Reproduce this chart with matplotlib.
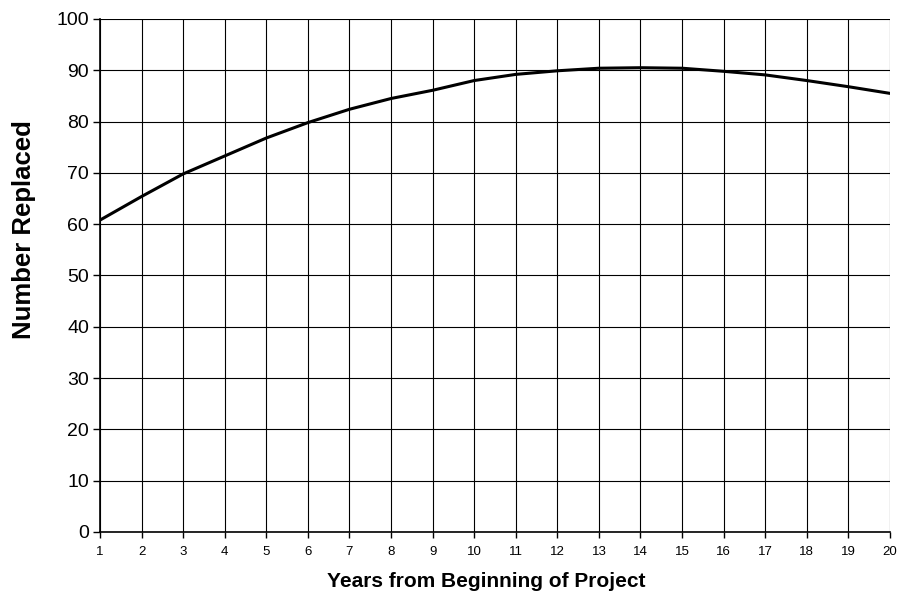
import numpy as np
import matplotlib.pyplot as plt

plt.rcParams['font.family'] = ['Liberation Sans', 'DejaVu Sans']

years = list(range(1, 21))
replaced = [60.8, 65.4, 69.8, 73.3, 76.8, 79.8, 82.4, 84.5, 86.1, 88.0,
            89.2, 89.9, 90.4, 90.5, 90.4, 89.8, 89.1, 88.0, 86.8, 85.5]
y_ticks = list(range(0, 101, 10))

fig = plt.figure(figsize=(8.98, 5.95), dpi=100)
ax = fig.add_axes([0.1114, 0.1059, 0.8796, 0.8622])

ax.plot(years, replaced, color='black', linewidth=2.2, solid_capstyle='round')

ax.set_xlim(1, 20)
ax.set_ylim(0, 100)
ax.set_xticks(years)
ax.set_yticks(y_ticks)
ax.grid(True, color='black', linewidth=0.8)
ax.set_axisbelow(True)

for side in ['top', 'right']:
    ax.spines[side].set_visible(False)
ax.spines['left'].set_linewidth(1.2)
ax.spines['bottom'].set_linewidth(1.2)

ax.tick_params(axis='y', labelsize=14, length=5, width=1, pad=3)
ax.tick_params(axis='x', labelsize=9.5, length=4, width=1, pad=6)

ax.set_xlabel('Years from Beginning of Project', fontsize=15, fontweight='bold')
ax.set_ylabel('Number Replaced', fontsize=18.5, fontweight='bold')
ax.xaxis.set_label_coords(0.489, -0.078)
ax.yaxis.set_label_coords(-0.081, 0.59)

fig.savefig('out.png', dpi=100)
